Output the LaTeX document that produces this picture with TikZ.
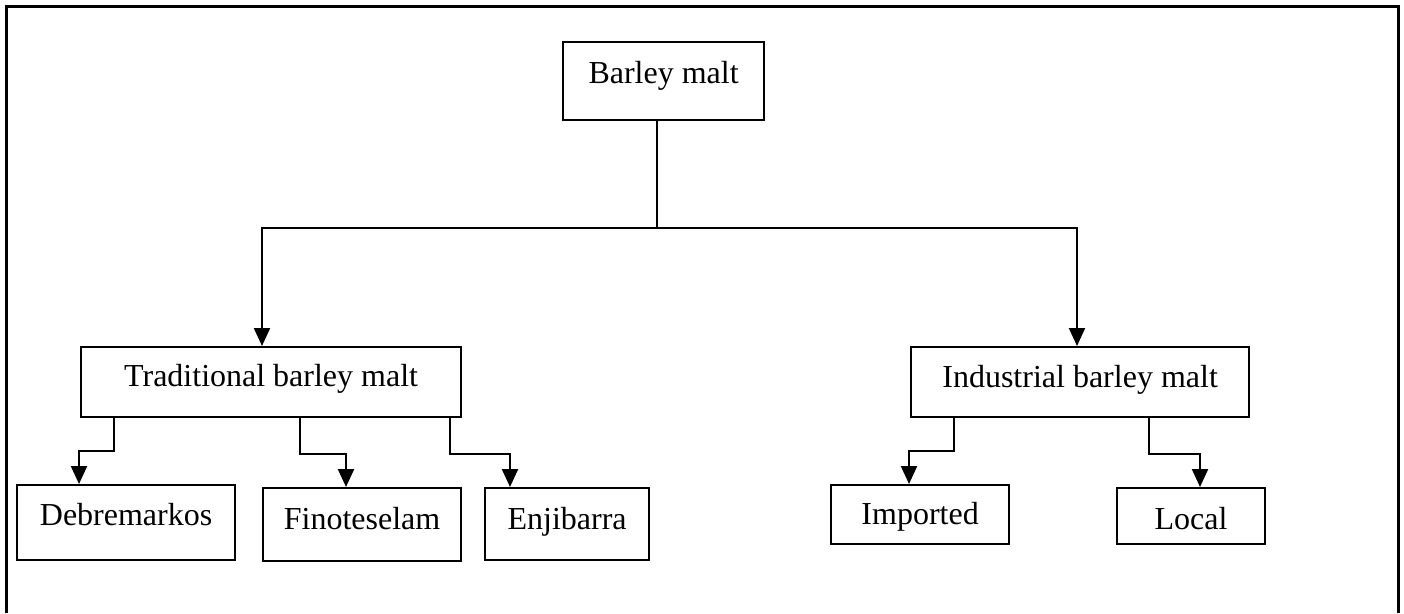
\documentclass[tikz,border=0pt]{standalone}
\usepackage{fontspec}
\setmainfont{Liberation Serif}
\usetikzlibrary{arrows.meta}
\tikzset{
  box/.style={draw, line width=2.2pt, inner sep=0pt, anchor=north west,
    font=\fontsize{32}{36}\selectfont},
  arr/.style={line width=2.2pt, -{Triangle[width=16pt,length=18pt]}}
}
\begin{document}
\begin{tikzpicture}[x=1pt,y=-1pt]
  \useasboundingbox (0,0) rectangle (1404,613);
  \draw[line width=3pt] (6,613) -- (6,6) -- (1398,6) -- (1398,613);

  \node[box, minimum width=201pt, text height=41pt, text depth=37pt] (root) at (562,41) {Barley malt};
  \node[box, minimum width=380pt, text height=39pt, text depth=31pt] (trad) at (80,346) {Traditional barley malt};
  \node[box, minimum width=338pt, text height=40pt, text depth=30pt] (ind) at (910,346) {Industrial barley malt};
  \node[box, minimum width=218pt, text height=40pt, text depth=35pt] (debre) at (16,484) {Debremarkos};
  \node[box, minimum width=198pt, text height=41pt, text depth=32pt] (fino) at (262,487) {Finoteselam};
  \node[box, minimum width=164pt, text height=41pt, text depth=31pt] (enji) at (484,487) {Enjibarra};
  \node[box, minimum width=178pt, text height=39pt, text depth=20pt] (imp) at (830,484) {Imported};
  \node[box, minimum width=148pt, text height=41pt, text depth=15pt] (local) at (1116,487) {Local};

  \coordinate (split) at (657,228);
  \draw[arr] (root.south -| split) -- (split) -| ([xshift=182pt]trad.north west);
  \draw[arr] (split) -| ([xshift=167pt]ind.north west);

  \draw[arr] ([xshift=34pt]trad.south west) -- ++(0,33) -| ([xshift=63pt]debre.north west);
  \draw[arr] ([xshift=220pt]trad.south west) -- ++(0,36) -| ([xshift=84pt]fino.north west);
  \draw[arr] ([xshift=370pt]trad.south west) -- ++(0,36) -| ([xshift=26pt]enji.north west);
  \draw[arr] ([xshift=44pt]ind.south west) -- ++(0,33) -| ([xshift=79pt]imp.north west);
  \draw[arr] ([xshift=239pt]ind.south west) -- ++(0,36) -| ([xshift=84pt]local.north west);
\end{tikzpicture}
\end{document}
